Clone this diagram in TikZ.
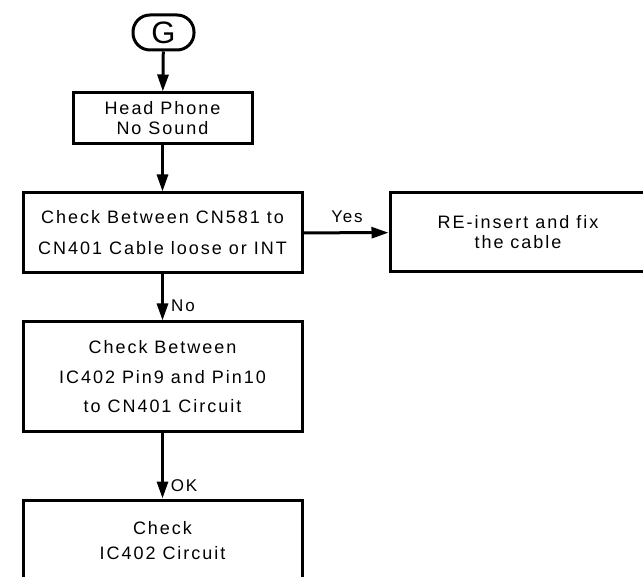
\documentclass[tikz,border=0pt]{standalone}
\usepackage{fontspec}
\setmainfont{Liberation Sans}[LetterSpace=11]
\usetikzlibrary{arrows.meta}
\begin{document}
\begin{tikzpicture}[x=1pt,y=-1pt,
  box/.style={draw,line width=3pt,align=center,inner sep=0pt,font=\fontsize{18}{20}\selectfont},
  term/.style={draw,line width=3pt,rounded corners=17pt,inner sep=0pt,minimum width=61pt,minimum height=35pt,font=\fontsize{31}{31}\selectfont},
  flow/.style={line width=3pt,-{Triangle[length=17pt,width=11pt]}},
  lbl/.style={font=\fontsize{17}{18}\selectfont,inner sep=0pt}]
\useasboundingbox (0,0) rectangle (643,577);
\node[term] (g) at (163.5,32.5) {G};
\node[box,minimum width=179pt,minimum height=51pt] (hp) at (162.5,118.5) {Head Phone\\No Sound};
\node[box,minimum width=279pt,minimum height=80pt] (c1) at (162.5,233) {Check Between CN581 to\\[11pt]CN401 Cable loose or INT};
\node[box,minimum width=256pt,minimum height=79pt] (re) at (518,232.5) {RE-insert and fix\\the cable};
\node[box,minimum width=279pt,minimum height=109pt] (c3) at (162.5,376.5) {Check Between\\[10pt]IC402 Pin9 and Pin10\\[9pt]to CN401 Circuit};
\node[box,minimum width=279pt,minimum height=82pt] (c4) at (162.5,541) {Check\\[5pt]IC402 Circuit};
\draw[flow] (g) -- (hp);
\draw[flow] (hp) -- (c1);
\draw[flow] (c1) -- (re);
\draw[flow] (c1) -- (c3);
\draw[flow] (c3) -- (c4);
\node[lbl] (yes) at (347,217) {Yes};
\node[lbl] (no) at (183,306) {No};
\node[lbl] (ok) at (184,486) {OK};
\end{tikzpicture}
\end{document}
